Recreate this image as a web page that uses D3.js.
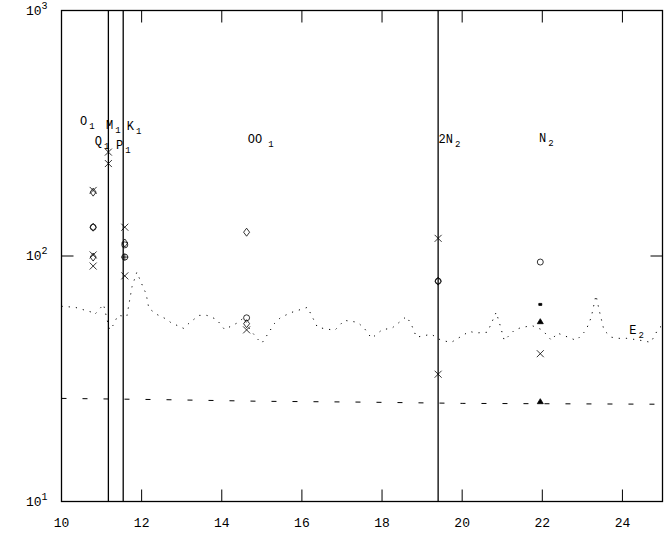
<!DOCTYPE html>
<html>
<head>
<meta charset="utf-8">
<script src="https://cdn.jsdelivr.net/npm/d3@7"></script>
<style>
  html, body { margin: 0; padding: 0; background: #fff; }
  svg { display: block; }
  text { font-family: "Liberation Mono", "DejaVu Sans Mono", monospace; fill: #000; }
</style>
</head>
<body>
<svg id="chart" width="665" height="545"></svg>
<script>
// ---------------- data ----------------
const xTicks = [10, 12, 14, 16, 18, 20, 22, 24];
const yTicks = [10, 100, 1000];
const yTickExp = ["1", "2", "3"];

// vertical constituent lines (x positions)
const constituentLines = [11.17, 11.54, 19.40];

// constituent labels
const labelName = ["O", "Q", "M", "K", "P", "OO", "2N", "N", "E"];
const labelSub  = ["1", "1", "1", "1", "1", "1", "2", "2", "2"];
const labelX    = [10.46, 10.83, 11.11, 11.63, 11.36, 14.65, 19.41, 21.92, 24.17];
const labelV    = [341, 283, 328, 325, 272, 288, 288, 290, 48];

// background spectrum (dotted)
const noiseX = [10.0, 10.34, 10.76, 10.83, 11.05, 11.13, 11.2, 11.28, 11.41, 11.63, 11.76, 11.88,
  12.06, 12.11, 12.18, 12.38, 12.63, 12.75, 12.88, 13.05, 13.18, 13.43, 13.63, 13.87, 14.07, 14.37,
  14.55, 14.70, 14.90, 15.0, 15.32, 15.47, 15.74, 15.99, 16.14, 16.39, 16.82, 17.06, 17.39, 17.56,
  17.74, 18.01, 18.24, 18.61, 18.73, 18.86, 19.23, 19.48, 19.73, 20.18, 20.35, 20.63, 20.85, 20.95,
  21.05, 21.30, 21.48, 21.75, 22.0, 22.23, 22.37, 22.85, 23.09, 23.22, 23.34, 23.42, 23.54, 23.72,
  23.91, 24.11, 24.40, 24.71, 24.90, 25.0];
const noiseV = [62.4, 61.8, 59.0, 57.8, 63.5, 55.7, 50.0, 52.0, 57.3, 56.7, 75, 85.9,
  73.1, 70.4, 61.2, 57.8, 55.2, 53.2, 52.2, 50.7, 53.2, 57.3, 57.3, 55.2, 50.2, 53.2,
  56, 50.2, 45.8, 44.1, 53.2, 56.2, 58.9, 60.7, 61.8, 51.2, 49.8, 54.7, 53.7, 50.7,
  46.2, 50.2, 50.7, 56.7, 52.7, 46.7, 48.0, 45.3, 44.5, 49.3, 48.6, 48.9, 59.0, 52,
  45.3, 49.8, 51.2, 52, 50, 45.3, 48.6, 45.3, 49.8, 56.2, 69.2, 60.1, 49.8, 46.7,
  46.2, 46.2, 45.5, 44.5, 50.7, 52.2];

// noise floor (dashed)
const floorX = [10, 12.5, 15, 17.5, 20, 22.5, 25];
const floorV = [26.3, 26.0, 25.6, 25.4, 25.1, 25.0, 24.9];

// amplitude markers at constituents
const markX = [10.79, 10.79, 10.79, 10.79, 10.79, 10.79, 10.79,
  11.17, 11.17,
  11.58, 11.58, 11.58, 11.58, 11.58, 11.58,
  14.62, 14.62, 14.62, 14.62,
  19.40, 19.40, 19.40, 19.40,
  21.95, 21.95, 21.95, 21.95, 21.95];
const markV = [185, 182, 131, 131, 101, 99, 91,
  265, 238,
  131, 111, 113, 99, 99, 83,
  125, 56, 53, 50,
  118, 79, 79, 33,
  94.5, 63.5, 54, 40, 25.5];
const markSym = ["times", "diamond", "circle", "diamond", "times", "diamond", "times",
  "times", "times",
  "times", "circle", "diamond", "circle", "plus", "times",
  "diamond", "circle", "diamond", "times",
  "times", "circle", "diamond", "times",
  "circle", "square", "triangle", "times", "triangle"];

// ---------------- layout ----------------
const svg = d3.select("#chart");
const L = 61.5, R = 662.5, T = 10.5, B = 501.5;

const x = d3.scaleLinear().domain([10, 25]).range([L, R]);
const y = d3.scaleLog().domain([10, 1000]).range([B, T]);

// symbol types (custom for d3.symbol)
const r0 = 3.5;
const symTypes = {
  times: { draw(c) { c.moveTo(-r0, -r0); c.lineTo(r0, r0); c.moveTo(r0, -r0); c.lineTo(-r0, r0); } },
  plus: { draw(c) { c.moveTo(-r0, 0); c.lineTo(r0, 0); c.moveTo(0, -r0); c.lineTo(0, r0); } },
  circle: { draw(c) { c.moveTo(3, 0); c.arc(0, 0, 3, 0, 2 * Math.PI); } },
  diamond: { draw(c) { c.moveTo(0, -4); c.lineTo(3, 0); c.lineTo(0, 4); c.lineTo(-3, 0); c.closePath(); } },
  square: { draw(c) { c.rect(-1.5, -1, 3, 2); } },
  triangle: { draw(c) { c.moveTo(0, -3); c.lineTo(3, 2); c.lineTo(-3, 2); c.closePath(); } }
};

// noise floor
const floorData = floorX.map((d, i) => [d, floorV[i]]);
svg.append("path")
  .datum(floorData)
  .attr("fill", "none").attr("stroke", "#000").attr("stroke-width", 1)
  .attr("stroke-dasharray", "5,16")
  .attr("d", d3.line().x(d => x(d[0])).y(d => y(d[1])));

// background spectrum
const noiseData = noiseX.map((d, i) => [d, noiseV[i]]);
svg.append("path")
  .datum(noiseData)
  .attr("fill", "none").attr("stroke", "#000").attr("stroke-width", 1)
  .attr("stroke-dasharray", "1.2,6")
  .attr("d", d3.line().x(d => x(d[0])).y(d => y(d[1])));

// vertical lines
svg.selectAll("line.cl").data(constituentLines).enter().append("line")
  .attr("class", "cl")
  .attr("x1", d => x(d)).attr("x2", d => x(d))
  .attr("y1", y(10)).attr("y2", y(1000))
  .attr("stroke", "#000").attr("stroke-width", 1.3);

// markers
svg.selectAll("path.mk").data(markX.map((d, i) => i)).enter().append("path")
  .attr("class", "mk")
  .attr("transform", i => `translate(${x(markX[i])},${y(markV[i])})`)
  .attr("d", i => d3.symbol().type(symTypes[markSym[i]])())
  .attr("fill", i => markSym[i] === "square" || markSym[i] === "triangle" ? "#000" : "none")
  .attr("stroke", "#000").attr("stroke-width", 0.8);

// labels
const lab = svg.selectAll("text.lab").data(labelName.map((d, i) => i)).enter().append("text")
  .attr("class", "lab")
  .attr("x", i => x(labelX[i])).attr("y", i => y(labelV[i]))
  .attr("font-size", 12);
lab.append("tspan").text(i => labelName[i]);
lab.append("tspan")
  .attr("font-size", 9).attr("dy", 4).attr("dx", i => labelName[i] === "OO" ? 6 : 2)
  .text(i => labelSub[i]);

// frame
svg.append("rect")
  .attr("x", L).attr("y", T).attr("width", R - L).attr("height", B - T)
  .attr("fill", "none").attr("stroke", "#000").attr("stroke-width", 1.3);

// x ticks (bottom and top, inward)
const tickLen = 12;
xTicks.forEach(t => {
  svg.append("line").attr("x1", x(t)).attr("x2", x(t)).attr("y1", B).attr("y2", B - tickLen)
    .attr("stroke", "#000").attr("stroke-width", 1);
  svg.append("line").attr("x1", x(t)).attr("x2", x(t)).attr("y1", T).attr("y2", T + tickLen)
    .attr("stroke", "#000").attr("stroke-width", 1);
});
svg.selectAll("text.xt").data(xTicks).enter().append("text")
  .attr("class", "xt")
  .attr("x", d => x(d)).attr("y", B + 25)
  .attr("text-anchor", "middle").attr("font-size", 13)
  .text(d => d);

// y ticks (left and right, inward)
yTicks.forEach(t => {
  svg.append("line").attr("x1", L).attr("x2", L + tickLen).attr("y1", y(t)).attr("y2", y(t))
    .attr("stroke", "#000").attr("stroke-width", 1);
  svg.append("line").attr("x1", R).attr("x2", R - tickLen).attr("y1", y(t)).attr("y2", y(t))
    .attr("stroke", "#000").attr("stroke-width", 1);
});
const yl = svg.selectAll("text.yt").data(yTicks.map((d, i) => i)).enter().append("text")
  .attr("class", "yt")
  .attr("x", 26).attr("y", i => y(yTicks[i]) + 4)
  .attr("font-size", 13);
yl.append("tspan").text("10");
yl.append("tspan").attr("font-size", 10).attr("dy", -6).text(i => yTickExp[i]);
</script>
</body>
</html>
